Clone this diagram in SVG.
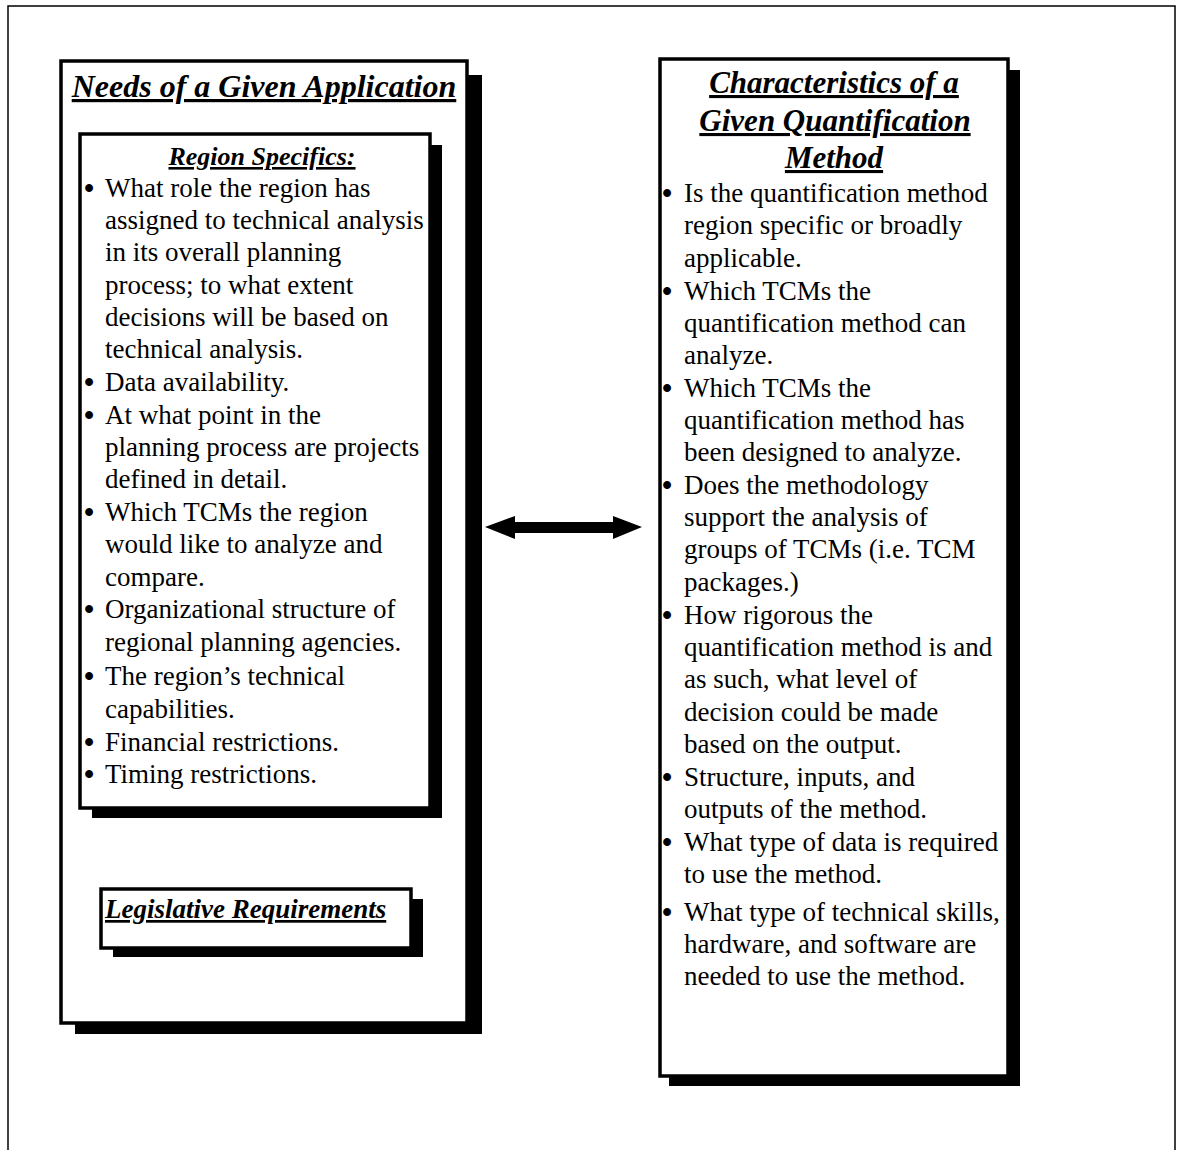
<svg xmlns="http://www.w3.org/2000/svg" width="1179" height="1150" viewBox="0 0 1179 1150">
  <style>
    .frame { fill: none; stroke: #000; stroke-width: 1.5; }
    .box { fill: #fff; stroke: #000; stroke-width: 3.5; }
    .shadow { fill: #000; }
    .title { font-family: "Liberation Serif", "Times New Roman", serif; font-weight: bold; font-style: italic; text-decoration: underline; fill: #000; }
    .body { font-family: "Liberation Serif", "Times New Roman", serif; font-size: 27px; fill: #000; }
    .dot { font-size: 29px; font-weight: bold; }
  </style>
  <rect width="1179" height="1150" fill="#fff"/>

  <!-- page frame, open at the bottom -->
  <path class="frame" d="M8,1150 V6 H1175 V1150"/>

  <!-- left column: needs of an application -->
  <g id="needs">
    <rect class="shadow" x="75" y="75" width="407" height="959"/>
    <rect class="box" x="61" y="61" width="406" height="962"/>
    <text class="title" x="264" y="97" font-size="32" text-anchor="middle">Needs of a Given Application</text>
  </g>

  <g id="region-specifics">
    <rect class="shadow" x="92" y="145" width="350" height="673"/>
    <rect class="box" x="80" y="134" width="350" height="674"/>
    <text class="title" x="262" y="165" font-size="26" text-anchor="middle">Region Specifics:</text>
    <g class="body">
      <text><tspan class="dot" x="84" y="198">•</tspan><tspan x="105" y="197">What role the region has</tspan></text>
      <text x="105" y="229">assigned to technical analysis</text>
      <text x="105" y="261">in its overall planning</text>
      <text x="105" y="294">process; to what extent</text>
      <text x="105" y="326">decisions will be based on</text>
      <text x="105" y="358">technical analysis.</text>
      <text><tspan class="dot" x="84" y="392">•</tspan><tspan x="105" y="391">Data availability.</tspan></text>
      <text><tspan class="dot" x="84" y="425">•</tspan><tspan x="105" y="424">At what point in the</tspan></text>
      <text x="105" y="456">planning process are projects</text>
      <text x="105" y="488">defined in detail.</text>
      <text><tspan class="dot" x="84" y="522">•</tspan><tspan x="105" y="521">Which TCMs the region</tspan></text>
      <text x="105" y="553">would like to analyze and</text>
      <text x="105" y="586">compare.</text>
      <text><tspan class="dot" x="84" y="619">•</tspan><tspan x="105" y="618">Organizational structure of</tspan></text>
      <text x="105" y="651">regional planning agencies.</text>
      <text><tspan class="dot" x="84" y="686">•</tspan><tspan x="105" y="685">The region’s technical</tspan></text>
      <text x="105" y="718">capabilities.</text>
      <text><tspan class="dot" x="84" y="752">•</tspan><tspan x="105" y="751">Financial restrictions.</tspan></text>
      <text><tspan class="dot" x="84" y="784">•</tspan><tspan x="105" y="783">Timing restrictions.</tspan></text>
    </g>
  </g>

  <g id="legislative">
    <rect class="shadow" x="113" y="899" width="310" height="58"/>
    <rect class="box" x="101" y="889" width="310" height="59"/>
    <text class="title" x="105" y="918" font-size="27">Legislative Requirements</text>
  </g>

  <!-- right column: characteristics of a method -->
  <g id="characteristics">
    <rect class="shadow" x="669" y="70" width="351" height="1016"/>
    <rect class="box" x="660" y="59" width="348" height="1017"/>
    <text class="title" font-size="31" text-anchor="middle" x="834" y="93">Characteristics of a</text>
    <text class="title" font-size="31" text-anchor="middle" x="835" y="131">Given Quantification</text>
    <text class="title" font-size="31" text-anchor="middle" x="834" y="168">Method</text>
    <g class="body">
      <text><tspan class="dot" x="662" y="203">•</tspan><tspan x="684" y="202">Is the quantification method</tspan></text>
      <text x="684" y="234">region specific or broadly</text>
      <text x="684" y="267">applicable.</text>
      <text><tspan class="dot" x="662" y="301">•</tspan><tspan x="684" y="300">Which TCMs the</tspan></text>
      <text x="684" y="332">quantification method can</text>
      <text x="684" y="364">analyze.</text>
      <text><tspan class="dot" x="662" y="398">•</tspan><tspan x="684" y="397">Which TCMs the</tspan></text>
      <text x="684" y="429">quantification method has</text>
      <text x="684" y="461">been designed to analyze.</text>
      <text><tspan class="dot" x="662" y="495">•</tspan><tspan x="684" y="494">Does the methodology</tspan></text>
      <text x="684" y="526">support the analysis of</text>
      <text x="684" y="558">groups of TCMs (i.e. TCM</text>
      <text x="684" y="591">packages.)</text>
      <text><tspan class="dot" x="662" y="625">•</tspan><tspan x="684" y="624">How rigorous the</tspan></text>
      <text x="684" y="656">quantification method is and</text>
      <text x="684" y="688">as such, what level of</text>
      <text x="684" y="721">decision could be made</text>
      <text x="684" y="753">based on the output.</text>
      <text><tspan class="dot" x="662" y="787">•</tspan><tspan x="684" y="786">Structure, inputs, and</tspan></text>
      <text x="684" y="818">outputs of the method.</text>
      <text><tspan class="dot" x="662" y="852">•</tspan><tspan x="684" y="851">What type of data is required</tspan></text>
      <text x="684" y="883">to use the method.</text>
      <text><tspan class="dot" x="662" y="922">•</tspan><tspan x="684" y="921">What type of technical skills,</tspan></text>
      <text x="684" y="953">hardware, and software are</text>
      <text x="684" y="985">needed to use the method.</text>
    </g>
  </g>

  <!-- two-way relationship between the columns -->
  <g id="connectors">
    <path d="M485,527 L515,516 L515,522 L613,522 L613,516 L642,527 L613,539 L613,533 L515,533 L515,539 Z" fill="#000"/>
  </g>
</svg>
